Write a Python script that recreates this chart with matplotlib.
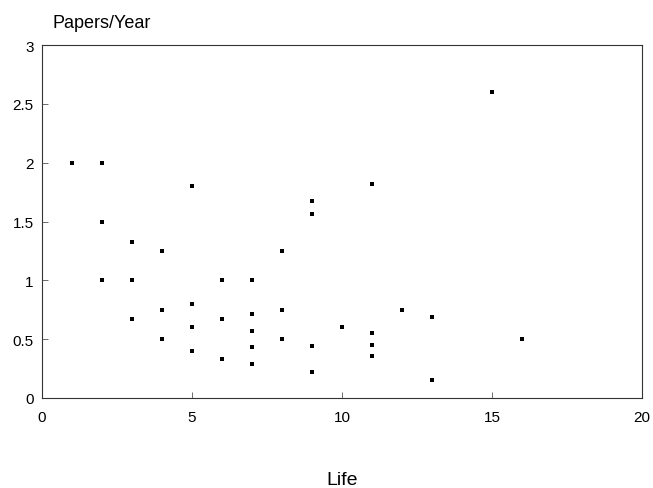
import matplotlib
matplotlib.use('Agg')
import matplotlib.pyplot as plt

# career length (years) and papers per year
life = [1, 2, 2, 2, 3, 3, 3, 4, 4, 4, 5, 5, 5, 5,
        6, 6, 6, 7, 7, 7, 7, 7, 8, 8, 8, 9, 9, 9, 9,
        10, 11, 11, 11, 11, 12, 13, 13, 15, 16]
papers_per_year = [2.0, 2.0, 1.5, 1.0, 1.33, 1.0, 0.67, 1.25, 0.75, 0.5,
                   1.8, 0.8, 0.6, 0.4,
                   1.0, 0.67, 0.33, 1.0, 0.71, 0.57, 0.43, 0.29,
                   1.25, 0.75, 0.5, 1.67, 1.56, 0.44, 0.22,
                   0.6, 1.82, 0.55, 0.45, 0.36, 0.75, 0.69, 0.15, 2.6, 0.5]

x_ticks = [0, 5, 10, 15, 20]
y_ticks = [0, 0.5, 1, 1.5, 2, 2.5, 3]
y_tick_labels = ['0', '0.5', '1', '1.5', '2', '2.5', '3']

plt.rcParams['font.family'] = ['Liberation Sans Narrow', 'Liberation Sans', 'DejaVu Sans']

fig = plt.figure(figsize=(6.53, 4.89), dpi=100)
ax = fig.add_axes([42 / 653, 1 - 399 / 489, (642 - 42) / 653, (399 - 46) / 489])

ax.scatter(life, papers_per_year, marker='s', s=5, color='black', linewidths=0)

ax.set_xlim(0, 20)
ax.set_ylim(0, 3)
ax.set_xticks(x_ticks)
ax.set_yticks(y_ticks)
ax.set_yticklabels(y_tick_labels)
ax.tick_params(direction='in', length=4, width=0.6, color='#555555',
               labelsize=11, pad=6)
ax.tick_params(axis='x', pad=9)
for spine in ax.spines.values():
    spine.set_linewidth(0.8)
    spine.set_color('#333333')

fig.text(53 / 653, 1 - 24 / 489, 'Papers/Year', fontsize=13,
         ha='left', va='center')
fig.text(342 / 653, 1 - 481 / 489, 'Life', fontsize=14,
         ha='center', va='center')

fig.savefig('out.png', dpi=100)
